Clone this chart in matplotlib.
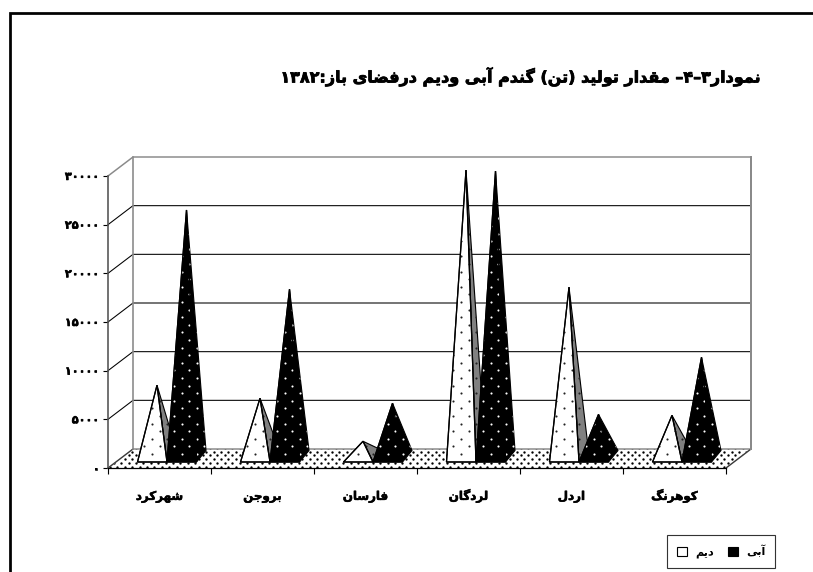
import matplotlib
matplotlib.use("Agg")
import numpy as np
import matplotlib.pyplot as plt
import matplotlib.patheffects as pe
from matplotlib.patches import Polygon, Patch
from matplotlib.lines import Line2D

# ---------- data ----------
categories = ["شهرکرد", "بروجن", "فارسان", "لردگان", "اردل", "کوهرنگ"]
diem = [7300, 5960, 1540, 29400, 17370, 4200]      # white series
abi = [25300, 17160, 5450, 29300, 4300, 10170]     # black series
yticks = [0, 5000, 10000, 15000, 20000, 25000, 30000]
title = "نمودار۳–۴– مقدار تولید (تن) گندم آبی ودیم درفضای باز:۱۳۸۲"
label_diem = "دیم"
label_abi = "آبی"

# ---------- Persian shaping for a renderer that does no shaping ----------
FORMS = {
    "ا": (0xFE8D, 0xFE8E), "آ": (0xFE81, 0xFE82), "د": (0xFEA9, 0xFEAA),
    "ر": (0xFEAD, 0xFEAE), "ز": (0xFEAF, 0xFEB0), "و": (0xFEED, 0xFEEE),
    "ب": (0xFE8F, 0xFE90, 0xFE91, 0xFE92), "ت": (0xFE95, 0xFE96, 0xFE97, 0xFE98),
    "ج": (0xFE9D, 0xFE9E, 0xFE9F, 0xFEA0), "س": (0xFEB1, 0xFEB2, 0xFEB3, 0xFEB4),
    "ش": (0xFEB5, 0xFEB6, 0xFEB7, 0xFEB8), "ض": (0xFEBD, 0xFEBE, 0xFEBF, 0xFEC0),
    "ف": (0xFED1, 0xFED2, 0xFED3, 0xFED4), "ق": (0xFED5, 0xFED6, 0xFED7, 0xFED8),
    "ک": (0xFB8E, 0xFB8F, 0xFB90, 0xFB91), "گ": (0xFB92, 0xFB93, 0xFB94, 0xFB95),
    "ل": (0xFEDD, 0xFEDE, 0xFEDF, 0xFEE0), "م": (0xFEE1, 0xFEE2, 0xFEE3, 0xFEE4),
    "ن": (0xFEE5, 0xFEE6, 0xFEE7, 0xFEE8), "ه": (0xFEE9, 0xFEEA, 0xFEEB, 0xFEEC),
    "ی": (0xFBFC, 0xFBFD, 0xFBFE, 0xFBFF),
}
MIRROR = {"(": ")", ")": "("}


def shape(text):
    out = []
    for i, c in enumerate(text):
        if c not in FORMS:
            out.append(c)
            continue
        f = FORMS[c]
        prev = text[i - 1] if i else ""
        nxt = text[i + 1] if i + 1 < len(text) else ""
        from_prev = prev in FORMS and len(FORMS[prev]) == 4
        to_next = len(f) == 4 and nxt in FORMS
        if from_prev and to_next:
            out.append(chr(f[3]))
        elif from_prev:
            out.append(chr(f[1]))
        elif to_next:
            out.append(chr(f[2]))
        else:
            out.append(chr(f[0]))
    # visual order: reverse, keeping multi-digit numbers left to right
    runs, cur = [], ""
    for c in out:
        if "۰" <= c <= "۹":
            cur += c
        else:
            if cur:
                runs.append(cur)
                cur = ""
            runs.append(MIRROR.get(c, c))
    if cur:
        runs.append(cur)
    return "".join(reversed(runs))


def fa_digits(n):
    return "".join("۰۱۲۳۴۵۶۷۸۹"[int(d)] for d in str(n))


# ---------- layout ----------
W, H = 813, 572
DPI = 90
plt.rcParams["font.family"] = "DejaVu Sans"
fig = plt.figure(figsize=(W / DPI, H / DPI), dpi=DPI, facecolor="white")

L, R, B, T = 108, 726, 468, 176  # front plane of the plot, in pixels
ax = fig.add_axes([L / W, 1 - B / H, (R - L) / W, (B - T) / H])
ax.set_xlim(0, len(categories))
ax.set_ylim(0, yticks[-1])
ax.patch.set_alpha(0)

px_x = len(categories) / (R - L)
px_y = yticks[-1] / (B - T)
wall_dx, wall_dy = 25 * px_x, 19 * px_y
GREY = "#8a8a8a"
heavy = [pe.withStroke(linewidth=0.45, foreground="black")]


def stipple(poly, x0, y0, step_x, step_y, color, size, z):
    """Fill a polygon with a staggered dot texture, clipped to the polygon."""
    verts = poly.get_xy()
    xs, ys = [], []
    rows = np.arange(y0, verts[:, 1].max() + step_y, step_y)
    for r, y in enumerate(rows):
        shift = step_x / 2 if r % 2 else 0
        k0 = np.floor((verts[:, 0].min() - x0) / step_x) - 1
        k1 = np.ceil((verts[:, 0].max() - x0) / step_x) + 1
        cols = x0 + shift + np.arange(k0, k1 + 1) * step_x
        xs.extend(cols)
        ys.extend([y] * len(cols))
    dots = Line2D(xs, ys, linestyle="none", marker="o", markersize=size,
                  markerfacecolor=color, markeredgewidth=0, zorder=z)
    dots.set_clip_path(poly)
    ax.add_line(dots)


# floor
floor = Polygon([(0, 0), (wall_dx, wall_dy), (6 + wall_dx, wall_dy), (6, 0)],
                closed=True, facecolor="white", linewidth=0, clip_on=False, zorder=1)
ax.add_patch(floor)
stipple(floor, 0.02, 1.5 * px_y, 7.4 * px_x, 3.7 * px_y, "black", 1.9, 1.2)
ax.plot([0, wall_dx, 6 + wall_dx, 6], [0, wall_dy, wall_dy, 0], color=GREY,
        lw=1.2, clip_on=False, zorder=1.5)
ax.plot([6 + wall_dx, 6], [wall_dy, 0], color="#333333", lw=0.8, clip_on=False, zorder=1.5)
ax.plot([0, wall_dx], [0, wall_dy], color="#333333", lw=0.8, clip_on=False, zorder=1.5)

# walls and gridlines
for v in yticks[1:]:
    top = v == yticks[-1]
    c = GREY if top else "black"
    ax.plot([0, wall_dx, 6 + wall_dx], [v, v + wall_dy, v + wall_dy], color=c,
            lw=1.2 if top else 0.85, clip_on=False, zorder=2)
ax.plot([wall_dx, wall_dx], [wall_dy, yticks[-1] + wall_dy], color=GREY, lw=1.3,
        clip_on=False, zorder=2)
ax.plot([6 + wall_dx, 6 + wall_dx], [wall_dy, yticks[-1] + wall_dy], color=GREY,
        lw=1.6, clip_on=False, zorder=2)

# pyramids
base_dy = 6 * px_y          # lift of the front base edge above the axis
depth_x, depth_y = 9.5 * px_x, 11.5 * px_y
lift = base_dy + depth_y / 2
cone_w = 29.5 * px_x
start = 29.5 * px_x


def pyramid(x0, value, face, side, dots, z):
    p0 = (x0, base_dy)
    p1 = (x0 + cone_w, base_dy)
    p2 = (x0 + cone_w + depth_x, base_dy + depth_y)
    apex = (x0 + cone_w / 2 + depth_x / 2, value + lift)
    lat_x, lat_y = x0 + 14.5 * px_x, base_dy + 8 * px_y
    right = Polygon([p1, p2, apex], closed=True, facecolor=side, edgecolor="black",
                    linewidth=0.9, joinstyle="miter", clip_on=False, zorder=z)
    ax.add_patch(right)
    stipple(right, lat_x, lat_y, 15.2 * px_x, 7.6 * px_y, dots, 1.7, z + 0.05)
    front = Polygon([p0, p1, apex], closed=True, facecolor=face, edgecolor="black",
                    linewidth=1.0, joinstyle="miter", clip_on=False, zorder=z + 0.1)
    ax.add_patch(front)
    stipple(front, lat_x, lat_y, 15.2 * px_x, 7.6 * px_y, dots, 1.7, z + 0.15)
    # outline again over the dots
    ax.add_patch(Polygon([p0, p1, apex], closed=True, fill=False, edgecolor="black",
                         linewidth=1.0, joinstyle="miter", clip_on=False, zorder=z + 0.2))


for i, (a, b) in enumerate(zip(diem, abi)):
    pyramid(i + start, a, "white", "#808080", "#222222", 3 + i)
    pyramid(i + start + cone_w, b, "black", "black", "white", 3.5 + i)

# axes, ticks, labels
for s in ("top", "right"):
    ax.spines[s].set_visible(False)
ax.spines["left"].set_color("#555555")
ax.spines["left"].set_linewidth(1.3)
ax.spines["bottom"].set_color("black")
ax.spines["bottom"].set_linewidth(1.0)
ax.spines["left"].set_zorder(2.5)
ax.spines["bottom"].set_zorder(2.5)

ax.set_yticks(yticks)
ax.set_yticklabels([fa_digits(v) for v in yticks], fontsize=9, fontweight="bold",
                   path_effects=heavy)
ax.set_xticks(range(len(categories) + 1))
ax.set_xticklabels([""] * (len(categories) + 1))
ax.set_xticks([i + 0.5 for i in range(len(categories))], minor=True)
ax.set_xticklabels([shape(c) for c in categories], minor=True, fontsize=9.5,
                   fontweight="bold", va="baseline", path_effects=heavy)
ax.tick_params(axis="y", length=4, width=0.9, pad=3)
ax.tick_params(axis="x", which="major", length=4.5, width=0.9)
ax.tick_params(axis="x", which="minor", length=0, pad=25.5)

# title
fig.text(762 / W, 1 - 77 / H, shape(title), ha="right", va="center", fontsize=12.8,
         fontweight="bold", path_effects=[pe.withStroke(linewidth=0.6, foreground="black")])

# legend
handles = [
    Patch(facecolor="white", edgecolor="black", linewidth=0.9),
    Patch(facecolor="black", edgecolor="black", linewidth=0.9),
]
leg = fig.legend(handles, [shape(label_diem), shape(label_abi)], ncol=2,
                 loc="center", bbox_to_anchor=(721 / W, 1 - 551.5 / H),
                 fancybox=False, framealpha=1, edgecolor="#333333", frameon=True,
                 handlelength=0.9, handleheight=0.9, handletextpad=0.7,
                 columnspacing=1.3, borderpad=0.85, borderaxespad=0,
                 prop={"size": 9, "weight": "bold"})
leg.get_frame().set_linewidth(0.9)

# outer frame: left and top edges only (cropped on the other sides)
fig.add_artist(Line2D([9.5 / W, 9.5 / W, 1], [0, 1 - 13 / H, 1 - 13 / H],
                      transform=fig.transFigure, color="black", lw=2.2,
                      solid_joinstyle="miter"))

fig.savefig("out.png", dpi=DPI)
